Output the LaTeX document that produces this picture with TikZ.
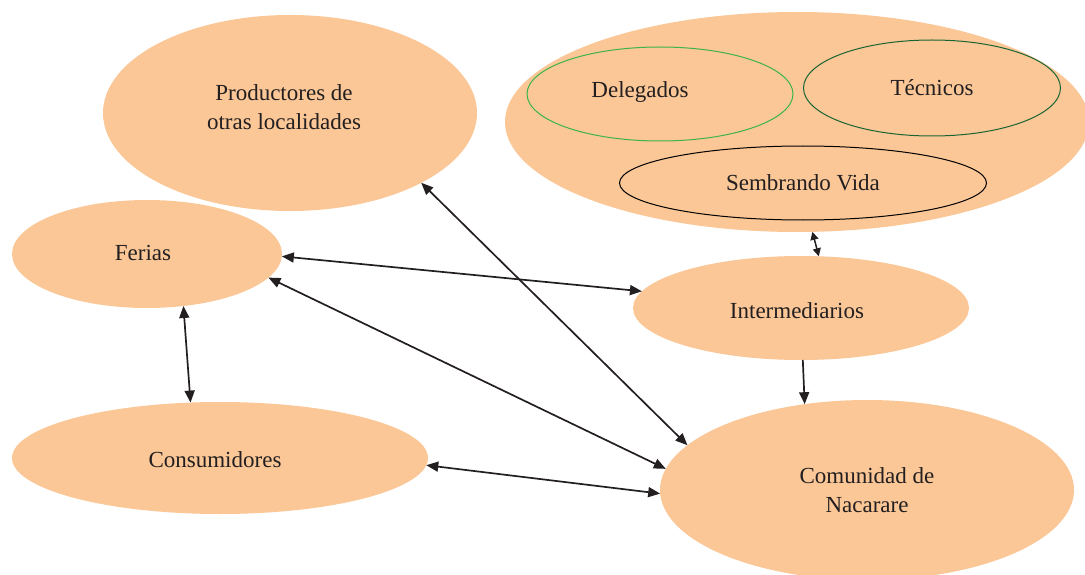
\documentclass[tikz,border=0pt]{standalone}
\usepackage{fontspec}
\setmainfont{Liberation Serif}
\usetikzlibrary{shapes.geometric,arrows.meta}
\definecolor{peach}{RGB}{251,199,151}
\definecolor{lgreen}{RGB}{60,180,70}
\definecolor{dgreen}{RGB}{25,100,50}
\definecolor{ink}{RGB}{35,31,32}
\tikzset{
  blob/.style={ellipse, fill=peach, draw=none, inner sep=0pt, outer sep=0pt,
    align=center, text=ink, font=\fontsize{23}{29}\selectfont},
  ring/.style={ellipse, fill=peach, line width=1pt, inner sep=0pt, outer sep=0pt,
    align=center, text=ink, font=\fontsize{23}{29}\selectfont},
  lbl/.style={inner sep=0pt, text=ink, font=\fontsize{23}{29}\selectfont, align=center},
  link/.style={line width=1.7pt, draw=ink, {Triangle[length=12pt,width=10pt]}-{Triangle[length=12pt,width=10pt]}},
  onelink/.style={line width=1.7pt, draw=ink, -{Triangle[length=12pt,width=10pt]}},
}
\begin{document}
\begin{tikzpicture}[x=1pt,y=-1pt]
\useasboundingbox (0,0) rectangle (1085,575);
\clip (0,0) rectangle (1085,575);
% nodes
\node[blob, minimum width=374pt, minimum height=196pt] (prod) at (290,113) {};
\node[lbl] (prodt) at (284,107) {Productores de\\otras localidades};
\node[blob, minimum width=584pt, minimum height=220pt] (grp) at (797,122) {};
\node[ring, draw=lgreen, minimum width=266pt, minimum height=94pt] (del) at (660,94) {};
\node[lbl] (delt) at (640,92) {Delegados};
\node[ring, draw=dgreen, minimum width=257pt, minimum height=96pt] (tec) at (932,88) {Técnicos};
\node[ring, draw=black, minimum width=367pt, minimum height=74pt] (sem) at (803,183) {Sembrando Vida};
\node[blob, minimum width=270pt, minimum height=108pt] (fer) at (147,254) {};
\node[lbl] (fert) at (143,253) {Ferias};
\node[blob, minimum width=336pt, minimum height=104pt] (int) at (801,308) {};
\node[lbl] (intt) at (797,311) {Intermediarios};
\node[blob, minimum width=416pt, minimum height=112pt] (con) at (220,458) {};
\node[lbl] (cont) at (215,460) {Consumidores};
\node[blob, minimum width=414pt, minimum height=180pt] (com) at (867,490) {Comunidad de\\Nacarare};
% connectors
\draw[link] (prod.-28) -- (com.166.8);
\draw[link] (fer.-1.7) -- (int.174.6);
\draw[link] (fer.-11.4) -- (com.174.3);
\draw[link] (fer.-55.3) -- (con.118.5);
\draw[link] (con.-2) -- (com.181);
\draw[onelink] (int.-88) -- (com.126.8);
\draw[line width=1.5pt, draw=ink, {Triangle[length=8pt,width=8pt]}-{Triangle[length=8pt,width=8pt]}] (grp.-82.7) -- (int.71);
\end{tikzpicture}
\end{document}
